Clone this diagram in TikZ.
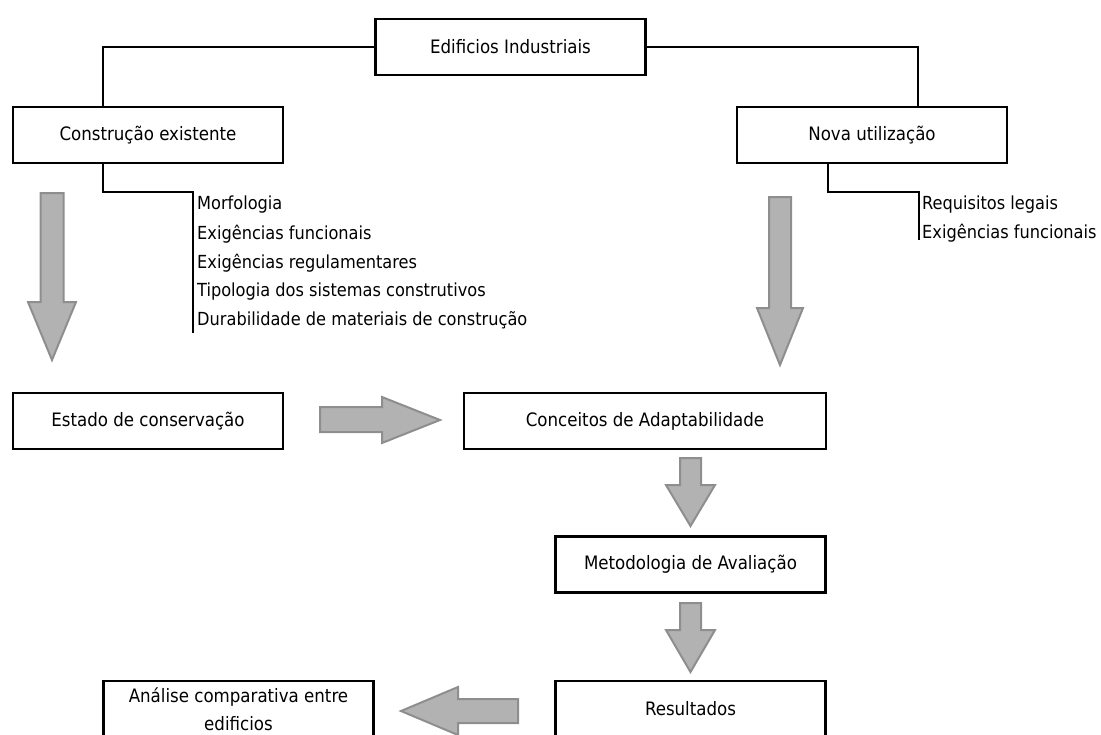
\documentclass[tikz,border=0pt]{standalone}
\usepackage{fontspec}
\setmainfont{DejaVu Sans Condensed}
\usetikzlibrary{positioning,calc}
\definecolor{arrowfill}{RGB}{178,178,178}
\definecolor{arrowedge}{RGB}{142,142,142}

\begin{document}
\begin{tikzpicture}[x=1pt,y=-1pt,
    box/.style={draw, line width=2.5pt, minimum width=270pt, minimum height=56pt,
                inner sep=0pt, align=center, font=\fontsize{18.5}{28}\selectfont},
    item/.style={anchor=west, inner sep=0pt, font=\fontsize{18}{20}\selectfont},
    link/.style={line width=1.4pt},
    bigarrow/.style={fill=arrowfill, draw=arrowedge, line width=2pt}]
  \useasboundingbox (0,0) rectangle (1101,734);
  \clip (0,0) rectangle (1101,734);
  % Boxes
  \node[box] (edif) at (510.5,47) {Edificios Industriais};
  \node[box] (cons) at (148,135) {Construção existente};
  \node[box] (nova) at (872,135) {Nova utilização};
  \node[box] (est) at (148,421) {Estado de conservação};
  \node[box, minimum width=362pt] (conc) at (645,421) {Conceitos de Adaptabilidade};
  \node[box] (metod) at (690.5,564.5) {Metodologia de Avaliação};
  \node[box] (result) at (690.5,709) {Resultados};
  \node[box] (anal) at (238.5,709) {Análise comparativa entre\\edificios};
  % Tree lines
  \draw[link] (edif.west) -| ([xshift=-45pt]cons.north);
  \draw[link] (edif.east) -| ([xshift=46pt]nova.north);
  \coordinate (consbar) at (193,192);
  \coordinate (novabar) at (919,192);
  \draw[link] ([xshift=-45pt]cons.south) |- (consbar) -- +(0,141);
  \draw[link] ([xshift=-44pt]nova.south) |- (novabar) -- +(0,48);
  % Lists
  \foreach \txt [count=\i] in {Morfologia, Exigências funcionais, Exigências regulamentares,
      Tipologia dos sistemas construtivos, Durabilidade de materiais de construção}
    \node[item] (item\i) at (197,176+28.9*\i) {\txt};
  \node[item] (req1) at (922,205) {Requisitos legais};
  \node[item] (req2) at (922,233.5) {Exigências funcionais};
  % Grey arrows
  \draw[bigarrow] (40.5,193) -- (63.5,193) -- (63.5,302) -- (76,302) -- (52,360)
                  -- (28,302) -- (40.5,302) -- cycle;
  \draw[bigarrow] (769,197) -- (791,197) -- (791,308) -- (803,308) -- (780,365)
                  -- (757,308) -- (769,308) -- cycle;
  \draw[bigarrow] (320,407) -- (382,407) -- (382,397) -- (440,420) -- (382,443)
                  -- (382,432) -- (320,432) -- cycle;
  \draw[bigarrow] (680,458) -- (701,458) -- (701,485) -- (715,485) -- (690.5,526)
                  -- (666,485) -- (680,485) -- cycle;
  \draw[bigarrow] (680,603) -- (701,603) -- (701,630) -- (715,630) -- (690.5,672)
                  -- (666,630) -- (680,630) -- cycle;
  \draw[bigarrow] (518,699) -- (458,699) -- (458,687) -- (401,711) -- (458,735)
                  -- (458,723) -- (518,723) -- cycle;
\end{tikzpicture}
\end{document}
